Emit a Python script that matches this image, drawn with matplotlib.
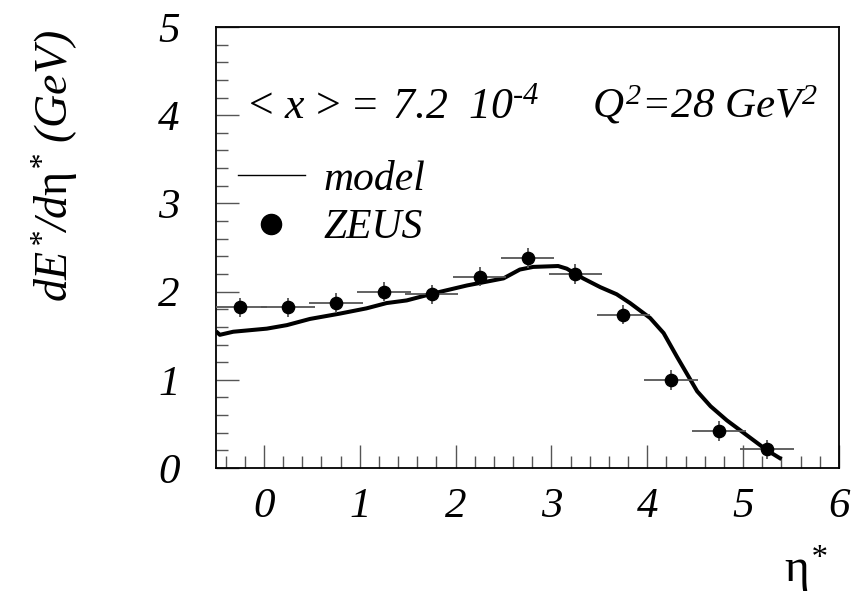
import matplotlib
matplotlib.use("Agg")
import matplotlib.pyplot as plt
from matplotlib.ticker import MultipleLocator, FixedLocator
from matplotlib.lines import Line2D
from matplotlib.font_manager import FontProperties

# ---------------- data ----------------
zeus_eta = [-0.25, 0.25, 0.75, 1.25, 1.75, 2.25, 2.75, 3.25, 3.75, 4.25, 4.75, 5.25]
zeus_val = [1.82, 1.82, 1.87, 2.00, 1.97, 2.17, 2.38, 2.20, 1.74, 1.00, 0.42, 0.21]
zeus_xerr = [0.28] * 12
zeus_yerr = [0.11] * 12

model_eta = [-0.50, -0.46, -0.32, 0.03, 0.24, 0.48, 0.79, 1.07, 1.28, 1.49, 1.77,
             2.12, 2.50, 2.67, 2.81, 3.07, 3.16, 3.33, 3.51, 3.68, 3.82, 4.03,
             4.17, 4.31, 4.45, 4.52, 4.66, 4.83, 5.04, 5.25, 5.40]
model_val = [1.55, 1.51, 1.545, 1.58, 1.62, 1.69, 1.75, 1.81, 1.87, 1.90, 1.98,
             2.07, 2.15, 2.25, 2.28, 2.29, 2.26, 2.15, 2.05, 1.97, 1.87, 1.70,
             1.53, 1.26, 1.00, 0.87, 0.70, 0.54, 0.37, 0.20, 0.10]

x_ticks = [0, 1, 2, 3, 4, 5, 6]
y_ticks = [0, 1, 2, 3, 4, 5]

# ---------------- style ----------------
plt.rcParams['font.family'] = ['Liberation Serif', 'DejaVu Serif']
plt.rcParams['mathtext.fontset'] = 'custom'
plt.rcParams['mathtext.rm'] = 'Liberation Serif:italic'
plt.rcParams['mathtext.it'] = 'Liberation Serif:italic'
plt.rcParams['mathtext.sf'] = 'Liberation Serif'
plt.rcParams['mathtext.bf'] = 'Liberation Serif:bold'

W, H = 854, 596
fig = plt.figure(figsize=(W / 100, H / 100), dpi=100)
ax = fig.add_axes([216 / W, (H - 468) / H, (839 - 216) / W, (468 - 27) / H])

ax.plot(model_eta, model_val, color='black', lw=2.9, solid_capstyle='butt',
        label='model', zorder=3)
ax.errorbar(zeus_eta, zeus_val, xerr=zeus_xerr, yerr=zeus_yerr, fmt='o',
            color='black', markersize=8.8, ecolor='#555555', elinewidth=1.3,
            capsize=0, zorder=4)

ax.set_xlim(-0.5, 6)
ax.set_ylim(0, 5)
ax.xaxis.set_major_locator(FixedLocator(x_ticks))
ax.xaxis.set_minor_locator(MultipleLocator(0.2))
ax.yaxis.set_major_locator(FixedLocator(y_ticks))
ax.yaxis.set_minor_locator(MultipleLocator(0.2))

ax.tick_params(which='both', direction='in', top=False, right=False,
               color='#555555', width=1.0)
ax.tick_params(which='major', length=16.5)
ax.tick_params(which='minor', length=8.6)
ax.tick_params(axis='x', which='major', pad=14)
ax.tick_params(axis='y', which='major', pad=26)
ax.set_xticks(x_ticks)
ax.set_yticks(y_ticks)
ax.set_xticklabels([str(t) for t in x_ticks])
ax.set_yticklabels([str(t) for t in y_ticks])
tick_fp = FontProperties(family='Liberation Serif', style='italic', size=31)
for lab in ax.get_xticklabels() + ax.get_yticklabels():
    lab.set_fontproperties(tick_fp)

for s in ax.spines.values():
    s.set_linewidth(1.3)
    s.set_color('black')

# legend
handles = [Line2D([], [], color='black', lw=1.0),
           Line2D([], [], color='black', marker='o', markersize=14.5, ls='none')]
ax.legend(handles, ['model', 'ZEUS'], loc='upper left',
          bbox_to_anchor=((238 - 216) / (839 - 216), (468 - 160) / (468 - 27)),
          frameon=False, prop={'family': 'Liberation Serif', 'style': 'italic', 'size': 30},
          handlelength=1.6, handletextpad=0.45, labelspacing=0.25, borderaxespad=0,
          borderpad=0)

# annotations
fig.text(242 / W, 1 - 118 / H,
         r'$\mathsf{<}\,x\,\mathsf{>}\mathsf{=}\;7.2\ \ 10^{‐4}$',
         fontsize=31.5, ha='left', va='baseline')
fig.text(592 / W, 1 - 118 / H, r'$Q^{2}$=28 GeV$^{2}$',
         fontsize=31, fontstyle='italic', ha='left', va='baseline')

# axis labels
fig.text(55 / W, 1 - 166 / H, r'$dE^{*}/d\mathsf{η}^{*}\ (GeV)$', fontsize=33,
         rotation=90, ha='center', va='center')
fig.text(806 / W, 1 - 583 / H, r'$\mathsf{η}^{*}$', fontsize=34,
         ha='center', va='baseline')

fig.savefig('out.png', dpi=100)
